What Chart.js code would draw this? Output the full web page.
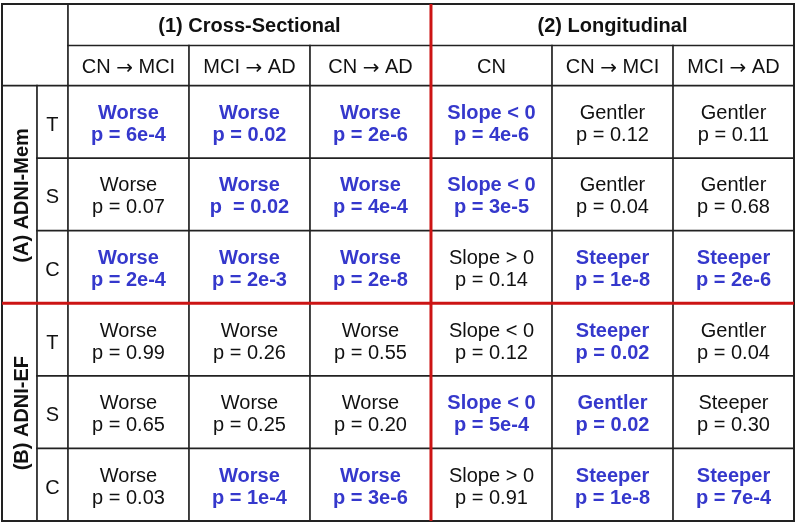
<!DOCTYPE html>
<html>
<head>
<meta charset="utf-8">
<script src="https://cdn.jsdelivr.net/npm/chart.js@4"></script>
<style>
  html, body { margin: 0; padding: 0; background: #fff; }
  #wrap { width: 796px; height: 523px; position: relative; }
</style>
</head>
<body>
<div id="wrap"><canvas id="tableChart" role="img" aria-label="Table of cross-sectional and longitudinal findings"></canvas></div>
<script>
'use strict';

const groups   = ['(1) Cross-Sectional', '(2) Longitudinal'];
const columns  = ['CN \u2192 MCI', 'MCI \u2192 AD', 'CN \u2192 AD', 'CN', 'CN \u2192 MCI', 'MCI \u2192 AD'];
const cohorts  = ['(A) ADNI-Mem', '(B) ADNI-EF'];
const measures = ['T', 'S', 'C', 'T', 'S', 'C'];

const findings = [
  ['Worse', 'Worse', 'Worse', 'Slope < 0', 'Gentler', 'Gentler'],
  ['Worse', 'Worse', 'Worse', 'Slope < 0', 'Gentler', 'Gentler'],
  ['Worse', 'Worse', 'Worse', 'Slope > 0', 'Steeper', 'Steeper'],
  ['Worse', 'Worse', 'Worse', 'Slope < 0', 'Steeper', 'Gentler'],
  ['Worse', 'Worse', 'Worse', 'Slope < 0', 'Gentler', 'Steeper'],
  ['Worse', 'Worse', 'Worse', 'Slope > 0', 'Steeper', 'Steeper'],
];

const pLabels = [
  ['p = 6e-4', 'p = 0.02',  'p = 2e-6', 'p = 4e-6', 'p = 0.12', 'p = 0.11'],
  ['p = 0.07', 'p  = 0.02', 'p = 4e-4', 'p = 3e-5', 'p = 0.04', 'p = 0.68'],
  ['p = 2e-4', 'p = 2e-3',  'p = 2e-8', 'p = 0.14', 'p = 1e-8', 'p = 2e-6'],
  ['p = 0.99', 'p = 0.26',  'p = 0.55', 'p = 0.12', 'p = 0.02', 'p = 0.04'],
  ['p = 0.65', 'p = 0.25',  'p = 0.20', 'p = 5e-4', 'p = 0.02', 'p = 0.30'],
  ['p = 0.03', 'p = 1e-4',  'p = 3e-6', 'p = 0.91', 'p = 1e-8', 'p = 7e-4'],
];

const significant = [
  [1, 1, 1, 1, 0, 0],
  [0, 1, 1, 1, 0, 0],
  [1, 1, 1, 0, 1, 1],
  [0, 0, 0, 0, 1, 0],
  [0, 0, 0, 1, 1, 0],
  [0, 1, 1, 0, 1, 1],
];

// layout in scale units: data columns/rows are 0..6, label columns and header rows sit below 0
const X_MIN = -0.545, X_MEASURE = -0.256;
const Y_MIN = -1.124, Y_SUBHEAD = -0.552;

const FONT  = '"Liberation Sans", Arial, Helvetica, sans-serif';
const ARROW = '"DejaVu Sans", sans-serif';
const BLUE = '#3538cc';
const RED  = '#cc1414';
const INK  = '#111';
const GRID = '#222';

const points = [];
findings.forEach((row, r) => row.forEach((_, c) => points.push({ x: c + 0.5, y: r + 0.5 })));

// header text with a larger arrow glyph, centred on cx
function drawHeader(ctx, text, cx, y) {
  const parts = text.split('\u2192');
  const main = '20px ' + FONT, arr = '20px ' + ARROW;
  const pieces = [];
  parts.forEach((p, i) => {
    if (i > 0) pieces.push({ t: '\u2192', f: arr });
    if (p) pieces.push({ t: p, f: main });
  });
  let total = 0;
  pieces.forEach(p => { ctx.font = p.f; p.w = ctx.measureText(p.t).width; total += p.w; });
  let x = cx - total / 2;
  ctx.textAlign = 'left';
  pieces.forEach(p => {
    ctx.font = p.f;
    ctx.fillText(p.t, x, p.f === arr ? y + 1 : y);
    x += p.w;
  });
  ctx.textAlign = 'center';
}

const tablePlugin = {
  id: 'tablePlugin',
  afterDatasetsDraw(chart) {
    const { ctx } = chart;
    const xs = chart.scales.x, ys = chart.scales.y;
    const px = v => xs.getPixelForValue(v);
    const py = v => ys.getPixelForValue(v);

    const line = (x1, y1, x2, y2, color, w) => {
      ctx.beginPath();
      ctx.strokeStyle = color;
      ctx.lineWidth = w;
      ctx.moveTo(px(x1), py(y1));
      ctx.lineTo(px(x2), py(y2));
      ctx.stroke();
    };

    ctx.save();
    ctx.lineCap = 'square';

    // black grid
    line(0, Y_SUBHEAD, 6, Y_SUBHEAD, GRID, 1.7);
    line(X_MIN, 0, 6, 0, GRID, 1.7);
    [1, 2, 4, 5].forEach(r => line(X_MEASURE, r, 6, r, GRID, 1.7));
    line(X_MEASURE, 0, X_MEASURE, 6, GRID, 1.7);
    line(0, Y_MIN, 0, 6, GRID, 1.7);
    [1, 2, 4, 5].forEach(c => line(c, Y_SUBHEAD, c, 6, GRID, 1.7));
    ctx.strokeStyle = GRID;
    ctx.lineWidth = 2;
    ctx.strokeRect(px(X_MIN), py(Y_MIN), px(6) - px(X_MIN), py(6) - py(Y_MIN));

    // red separators
    ctx.lineCap = 'butt';
    line(3, Y_MIN, 3, 6, RED, 3);
    line(X_MIN, 3, 6, 3, RED, 3);

    ctx.textAlign = 'center';
    ctx.textBaseline = 'alphabetic';

    // group headers
    ctx.fillStyle = INK;
    ctx.font = 'bold 20px ' + FONT;
    groups.forEach((g, i) => {
      ctx.fillText(g, (px(i * 3) + px(i * 3 + 3)) / 2, (py(Y_MIN) + py(Y_SUBHEAD)) / 2 + 7);
    });

    // column headers
    columns.forEach((c, i) => {
      drawHeader(ctx, c, (px(i) + px(i + 1)) / 2, (py(Y_SUBHEAD) + py(0)) / 2 + 7);
    });

    // measure letters
    ctx.font = '20px ' + FONT;
    measures.forEach((m, r) => {
      ctx.fillText(m, (px(X_MEASURE) + px(0)) / 2, (py(r) + py(r + 1)) / 2 + 9);
    });

    // cohort labels, rotated
    ctx.font = 'bold 20px ' + FONT;
    cohorts.forEach((c, i) => {
      const cx = (px(X_MIN) + px(X_MEASURE)) / 2 + 1.5;
      const cy = (py(i * 3) + py(i * 3 + 3)) / 2 + 1;
      ctx.save();
      ctx.translate(cx, cy);
      ctx.rotate(-Math.PI / 2);
      ctx.fillText(c, 0, 7);
      ctx.restore();
    });

    // cells
    findings.forEach((row, r) => row.forEach((f, c) => {
      const sig = significant[r][c];
      ctx.fillStyle = sig ? BLUE : INK;
      ctx.font = (sig ? 'bold ' : '') + '20px ' + FONT;
      const cx = (px(c) + px(c + 1)) / 2;
      const cy = (py(r) + py(r + 1)) / 2;
      ctx.fillText(f, cx, cy - 3);
      ctx.fillText(pLabels[r][c], cx, cy + 19);
    }));

    ctx.restore();
  },
};

new Chart(document.getElementById('tableChart'), {
  type: 'scatter',
  data: {
    datasets: [{
      data: points,
      pointRadius: 0,
      pointHoverRadius: 0,
    }],
  },
  options: {
    responsive: true,
    maintainAspectRatio: false,
    animation: false,
    events: [],
    layout: { padding: { left: 2, right: 2, top: 4, bottom: 2 } },
    scales: {
      x: { type: 'linear', min: X_MIN, max: 6, display: false },
      y: { type: 'linear', min: Y_MIN, max: 6, reverse: true, display: false },
    },
    plugins: {
      legend: { display: false },
      tooltip: { enabled: false },
    },
  },
  plugins: [tablePlugin],
});
</script>
</body>
</html>
